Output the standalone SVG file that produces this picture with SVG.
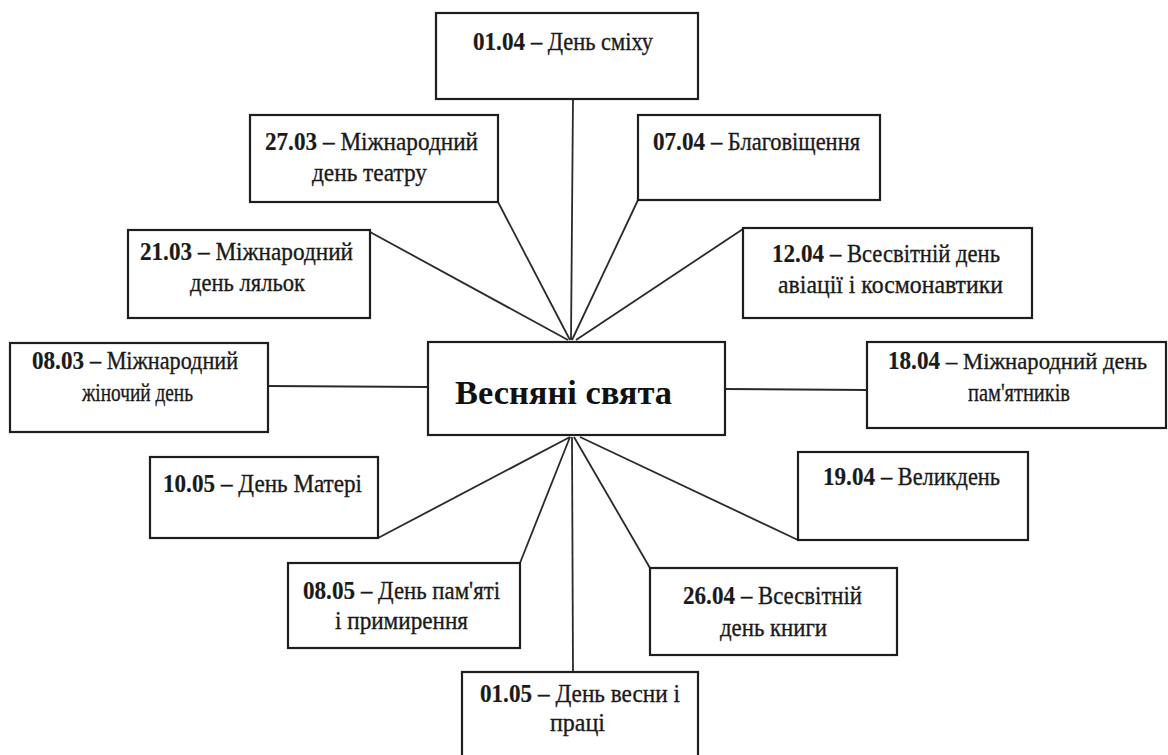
<svg xmlns="http://www.w3.org/2000/svg" width="1168" height="755" viewBox="0 0 1168 755">
<style>
.box{fill:#fff;stroke:#1e1e1e;stroke-width:2.2}
.ln{stroke:#2a2a2a;stroke-width:1.8;fill:none}
.t{font-family:"Liberation Serif","Times New Roman",serif;font-size:26px;fill:#1a1a1a;stroke:#1a1a1a;stroke-width:0.35}
.b{font-weight:bold;stroke-width:0.2}
.s{font-size:24px}
.c{font-family:"Liberation Serif","Times New Roman",serif;font-size:33px;font-weight:bold;fill:#111}
</style>
<rect width="1168" height="755" fill="#fff"/>
<g id="connectors">
<line class="ln" x1="573" y1="98" x2="571" y2="340"/>
<line class="ln" x1="498" y1="202" x2="570" y2="340"/>
<line class="ln" x1="638" y1="200" x2="572" y2="340"/>
<line class="ln" x1="370" y1="232" x2="568" y2="340"/>
<line class="ln" x1="743" y1="229" x2="576" y2="340"/>
<line class="ln" x1="268" y1="386" x2="428" y2="387"/>
<line class="ln" x1="725" y1="389" x2="867" y2="390"/>
<line class="ln" x1="378" y1="538" x2="570" y2="437"/>
<line class="ln" x1="798" y1="540" x2="580" y2="437"/>
<line class="ln" x1="650" y1="568" x2="574" y2="437"/>
<line class="ln" x1="520" y1="563" x2="570" y2="437"/>
<line class="ln" x1="572" y1="437" x2="573" y2="672"/>
</g>
<g id="center">
<rect class="box" x="428" y="342" width="297" height="93"/>
<text class="c" x="455" y="404" textLength="217" lengthAdjust="spacingAndGlyphs">Весняні свята</text>
</g>
<g id="n0104">
<rect class="box" x="436" y="13" width="262" height="86"/>
<text class="t b" x="473" y="50" textLength="52" lengthAdjust="spacingAndGlyphs">01.04</text>
<text class="t" x="531" y="50" textLength="122" lengthAdjust="spacingAndGlyphs">– День сміху</text>
</g>
<g id="n2703">
<rect class="box" x="250" y="115" width="248" height="87"/>
<text class="t b" x="265" y="150" textLength="52" lengthAdjust="spacingAndGlyphs">27.03</text>
<text class="t" x="323" y="150" textLength="155" lengthAdjust="spacingAndGlyphs">– Міжнародний</text>
<text class="t" x="312" y="181" textLength="115" lengthAdjust="spacingAndGlyphs">день театру</text>
</g>
<g id="n0704">
<rect class="box" x="638" y="115" width="242" height="85"/>
<text class="t b" x="653" y="150" textLength="52" lengthAdjust="spacingAndGlyphs">07.04</text>
<text class="t" x="711" y="150" textLength="149" lengthAdjust="spacingAndGlyphs">– Благовіщення</text>
</g>
<g id="n2103">
<rect class="box" x="128" y="230" width="242" height="88"/>
<text class="t b" x="140" y="260" textLength="52" lengthAdjust="spacingAndGlyphs">21.03</text>
<text class="t" x="198" y="260" textLength="155" lengthAdjust="spacingAndGlyphs">– Міжнародний</text>
<text class="t" x="190" y="291" textLength="115" lengthAdjust="spacingAndGlyphs">день ляльок</text>
</g>
<g id="n1204">
<rect class="box" x="743" y="228" width="289" height="90"/>
<text class="t b" x="772" y="262" textLength="52" lengthAdjust="spacingAndGlyphs">12.04</text>
<text class="t" x="830" y="262" textLength="170" lengthAdjust="spacingAndGlyphs">– Всесвітній день</text>
<text class="t" x="778" y="293" textLength="225" lengthAdjust="spacingAndGlyphs">авіації і космонавтики</text>
</g>
<g id="n0803">
<rect class="box" x="10" y="343" width="258" height="89"/>
<text class="t b" x="32" y="369" textLength="52" lengthAdjust="spacingAndGlyphs">08.03</text>
<text class="t" x="90" y="369" textLength="148" lengthAdjust="spacingAndGlyphs">– Міжнародний</text>
<text class="t" x="82" y="401" textLength="111" lengthAdjust="spacingAndGlyphs">жіночий день</text>
</g>
<g id="n1804">
<rect class="box" x="867" y="342" width="299" height="86"/>
<text class="t b" x="888" y="369" textLength="52" lengthAdjust="spacingAndGlyphs">18.04</text>
<text class="t s" x="946" y="369" textLength="201" lengthAdjust="spacingAndGlyphs">– Міжнародний день</text>
<text class="t" x="968" y="401" textLength="102" lengthAdjust="spacingAndGlyphs">пам'ятників</text>
</g>
<g id="n1005">
<rect class="box" x="150" y="457" width="228" height="81"/>
<text class="t b" x="163" y="492" textLength="52" lengthAdjust="spacingAndGlyphs">10.05</text>
<text class="t" x="221" y="492" textLength="141" lengthAdjust="spacingAndGlyphs">– День Матері</text>
</g>
<g id="n1904">
<rect class="box" x="798" y="452" width="230" height="88"/>
<text class="t b" x="823" y="485" textLength="52" lengthAdjust="spacingAndGlyphs">19.04</text>
<text class="t" x="881" y="485" textLength="119" lengthAdjust="spacingAndGlyphs">– Великдень</text>
</g>
<g id="n2604">
<rect class="box" x="650" y="568" width="247" height="87"/>
<text class="t b" x="683" y="604" textLength="52" lengthAdjust="spacingAndGlyphs">26.04</text>
<text class="t" x="741" y="604" textLength="121" lengthAdjust="spacingAndGlyphs">– Всесвітній</text>
<text class="t" x="720" y="636" textLength="107" lengthAdjust="spacingAndGlyphs">день книги</text>
</g>
<g id="n0805">
<rect class="box" x="288" y="563" width="232" height="85"/>
<text class="t b" x="303" y="599" textLength="52" lengthAdjust="spacingAndGlyphs">08.05</text>
<text class="t" x="361" y="599" textLength="139" lengthAdjust="spacingAndGlyphs">– День пам'яті</text>
<text class="t" x="335" y="629" textLength="133" lengthAdjust="spacingAndGlyphs">і примирення</text>
</g>
<g id="n0105">
<rect class="box" x="462" y="672" width="236" height="100"/>
<text class="t b" x="480" y="702" textLength="52" lengthAdjust="spacingAndGlyphs">01.05</text>
<text class="t" x="538" y="702" textLength="142" lengthAdjust="spacingAndGlyphs">– День весни і</text>
<text class="t" x="550" y="731" textLength="55" lengthAdjust="spacingAndGlyphs">праці</text>
</g>
</svg>
